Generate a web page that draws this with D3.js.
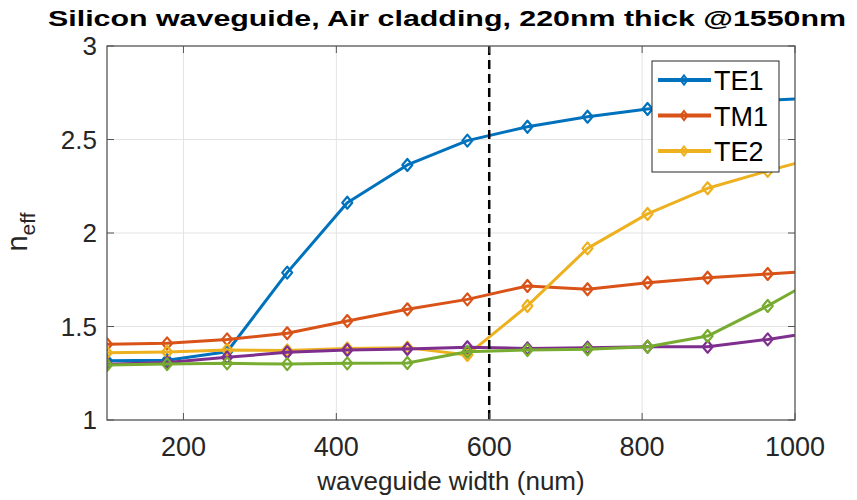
<!DOCTYPE html>
<html>
<head>
<meta charset="utf-8">
<script src="https://cdn.jsdelivr.net/npm/d3@7"></script>
<style>
  html, body { margin: 0; padding: 0; background: #fff; }
  svg { display: block; font-family: "Liberation Sans", Helvetica, Arial, sans-serif; }
</style>
</head>
<body>
<svg id="chart" width="857" height="500"></svg>
<script>
// waveguide widths (nm) of the simulated points
const widths = [100, 178.6, 257.1, 335.7, 414.3, 492.9, 571.4, 650, 728.6, 807.1, 885.7, 964.3, 1042.9];

// effective index per mode
const te1 = [1.317, 1.32, 1.365, 1.788, 2.162, 2.364, 2.494, 2.568, 2.622, 2.663, 2.69, 2.71, 2.725];
const tm1 = [1.405, 1.41, 1.431, 1.464, 1.529, 1.592, 1.645, 1.717, 1.699, 1.734, 1.761, 1.781, 1.80];
const te2 = [1.36, 1.364, 1.374, 1.372, 1.383, 1.387, 1.348, 1.61, 1.918, 2.102, 2.239, 2.332, 2.42];
const mode4 = [1.298, 1.307, 1.335, 1.362, 1.374, 1.38, 1.389, 1.383, 1.387, 1.392, 1.392, 1.431, 1.48];
const mode5 = [1.294, 1.299, 1.303, 1.299, 1.303, 1.305, 1.365, 1.374, 1.378, 1.392, 1.449, 1.61, 1.79];

const seriesNames = ["TE1", "TM1", "TE2", "", ""];
const seriesValues = [te1, tm1, te2, mode4, mode5];
const seriesColors = ["#0072BD", "#D95319", "#EDB120", "#7E2F8E", "#77AC30"];
const legendCount = 3;

const xTicks = [200, 400, 600, 800, 1000];
const yTicks = [1, 1.5, 2, 2.5, 3];
const markerWidth = 600;

const titleText = "Silicon waveguide, Air cladding, 220nm thick @1550nm";
const xLabelText = "waveguide width (num)";

const svg = d3.select("#chart");
const plot = { left: 107, right: 795, top: 46, bottom: 420 };

const x = d3.scaleLinear().domain([100, 1000]).range([plot.left, plot.right]);
const y = d3.scaleLinear().domain([1, 3]).range([plot.bottom, plot.top]);

svg.append("defs").append("clipPath").attr("id", "plotClip")
  .append("rect")
  .attr("x", plot.left).attr("y", plot.top - 6)
  .attr("width", plot.right - plot.left).attr("height", plot.bottom - plot.top + 12);

// grid
const grid = svg.append("g");
grid.selectAll(".gx").data(xTicks.filter(t => t < 1000)).enter().append("line")
  .attr("x1", d => x(d)).attr("x2", d => x(d))
  .attr("y1", plot.top).attr("y2", plot.bottom)
  .attr("stroke", "#e3e3e3").attr("stroke-width", 1);
grid.selectAll(".gy").data(yTicks.filter(t => t > 1 && t < 3)).enter().append("line")
  .attr("x1", plot.left).attr("x2", plot.right)
  .attr("y1", d => y(d)).attr("y2", d => y(d))
  .attr("stroke", "#e3e3e3").attr("stroke-width", 1);

// series
const line = d3.line().x(d => x(d[0])).y(d => y(d[1]));
const diamond = (cx, cy, w, h) => `M${cx},${cy - h / 2}L${cx + w / 2},${cy}L${cx},${cy + h / 2}L${cx - w / 2},${cy}Z`;

const dataLayer = svg.append("g").attr("clip-path", "url(#plotClip)");
seriesValues.forEach((vals, i) => {
  const pts = widths.map((w, j) => [w, vals[j]]);
  const g = dataLayer.append("g");
  g.append("path").datum(pts)
    .attr("d", line)
    .attr("fill", "none")
    .attr("stroke", seriesColors[i])
    .attr("stroke-width", 3)
    .attr("stroke-linejoin", "round");
  g.selectAll("path.m").data(pts).enter().append("path")
    .attr("class", "m")
    .attr("d", d => diamond(x(d[0]), y(d[1]), 10, 12))
    .attr("fill", "none")
    .attr("stroke", seriesColors[i])
    .attr("stroke-width", 2.2)
    .attr("stroke-linejoin", "round");
});

// vertical marker line
svg.append("line")
  .attr("x1", x(markerWidth)).attr("x2", x(markerWidth))
  .attr("y1", plot.top).attr("y2", plot.bottom)
  .attr("stroke", "#000").attr("stroke-width", 2.5)
  .attr("stroke-dasharray", "9,5");

// axes box with inward ticks
const axisColor = "#262626";
const tickLen = 7;
const axes = svg.append("g");
axes.append("rect")
  .attr("x", plot.left).attr("y", plot.top)
  .attr("width", plot.right - plot.left).attr("height", plot.bottom - plot.top)
  .attr("fill", "none").attr("stroke", "#555").attr("stroke-width", 1.3);

xTicks.forEach(t => {
  axes.append("line").attr("x1", x(t)).attr("x2", x(t))
    .attr("y1", plot.bottom).attr("y2", plot.bottom - tickLen)
    .attr("stroke", "#555").attr("stroke-width", 1);
  axes.append("line").attr("x1", x(t)).attr("x2", x(t))
    .attr("y1", plot.top).attr("y2", plot.top + tickLen)
    .attr("stroke", "#555").attr("stroke-width", 1);
});
yTicks.forEach(t => {
  axes.append("line").attr("x1", plot.left).attr("x2", plot.left + tickLen)
    .attr("y1", y(t)).attr("y2", y(t))
    .attr("stroke", "#555").attr("stroke-width", 1);
  axes.append("line").attr("x1", plot.right).attr("x2", plot.right - tickLen)
    .attr("y1", y(t)).attr("y2", y(t))
    .attr("stroke", "#555").attr("stroke-width", 1);
});

// tick labels
svg.append("g").selectAll("text").data(xTicks).enter().append("text")
  .attr("x", d => x(d)).attr("y", 456)
  .attr("text-anchor", "middle")
  .attr("font-size", 27).attr("fill", axisColor)
  .text(d => d3.format("d")(d));

svg.append("g").selectAll("text").data(yTicks).enter().append("text")
  .attr("x", 97).attr("y", d => y(d) + 9)
  .attr("text-anchor", "end")
  .attr("font-size", 26).attr("fill", axisColor)
  .text(d => String(d));

// axis labels
svg.append("text")
  .attr("x", (plot.left + plot.right) / 2).attr("y", 490)
  .attr("text-anchor", "middle")
  .attr("font-size", 26).attr("fill", axisColor)
  .text(xLabelText);

const yl = svg.append("text")
  .attr("transform", "translate(27,232) rotate(-90)")
  .attr("text-anchor", "middle")
  .attr("fill", axisColor);
yl.append("tspan").attr("font-size", 29).text("n");
yl.append("tspan").attr("font-size", 21).attr("dy", 8).text("eff");

// title
svg.append("text")
  .attr("x", 447).attr("y", 26)
  .attr("text-anchor", "middle")
  .attr("font-size", 22).attr("font-weight", "bold").attr("fill", "#000")
  .attr("textLength", 798).attr("lengthAdjust", "spacingAndGlyphs")
  .text(titleText);

// legend
const leg = svg.append("g");
leg.append("rect")
  .attr("x", 652).attr("y", 61).attr("width", 127).attr("height", 111)
  .attr("fill", "#fff").attr("stroke", "#262626").attr("stroke-width", 1);
seriesNames.slice(0, legendCount).forEach((name, i) => {
  const cy = 80 + i * 35.5;
  leg.append("line")
    .attr("x1", 658).attr("x2", 711).attr("y1", cy).attr("y2", cy)
    .attr("stroke", seriesColors[i]).attr("stroke-width", 4);
  leg.append("path")
    .attr("d", diamond(684, cy, 7, 9))
    .attr("fill", "none").attr("stroke", seriesColors[i]).attr("stroke-width", 2);
  leg.append("text")
    .attr("x", 714).attr("y", cy + 10)
    .attr("font-size", 27).attr("fill", "#000")
    .text(name);
});
</script>
</body>
</html>
